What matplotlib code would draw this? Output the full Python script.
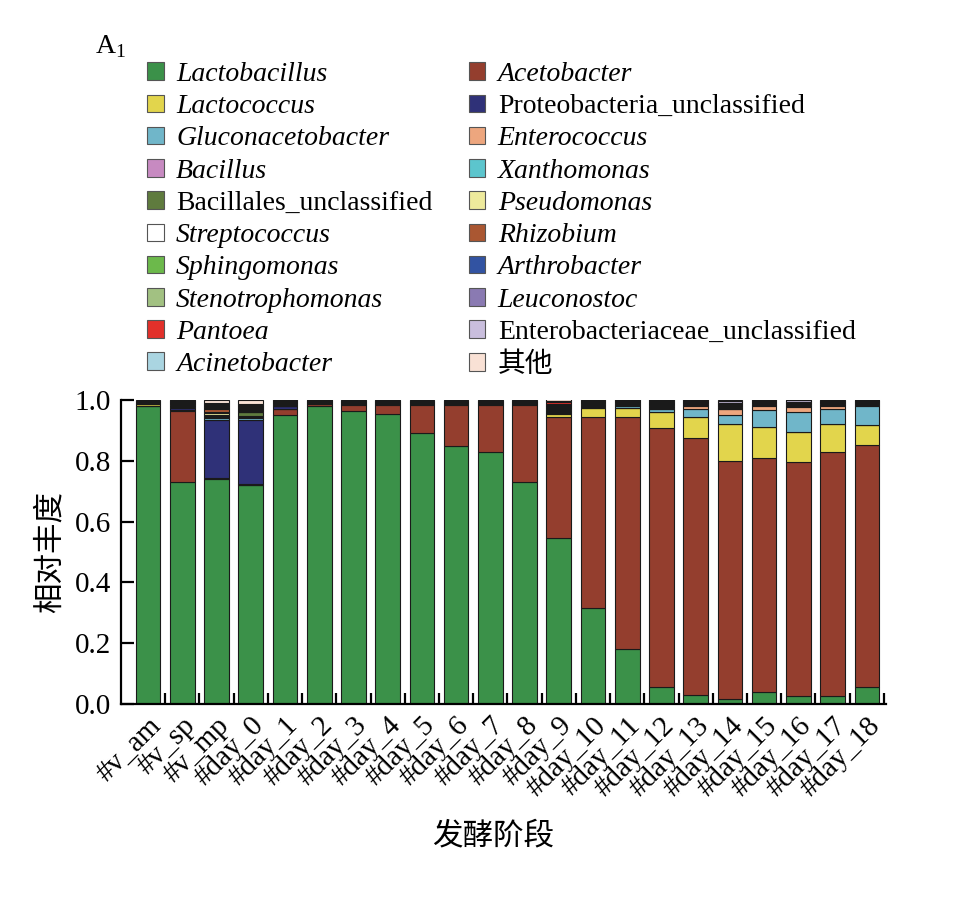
import matplotlib

matplotlib.use("Agg")
import matplotlib.pyplot as plt
import numpy as np
from matplotlib.patches import Patch

plt.rcParams["font.family"] = ["Liberation Serif", "Noto Sans CJK SC"]
plt.rcParams["mathtext.fontset"] = "custom"
plt.rcParams["mathtext.rm"] = "Liberation Serif"

samples = [
    "#v_am", "#v_sp", "#v_mp", "#day_0", "#day_1", "#day_2", "#day_3",
    "#day_4", "#day_5", "#day_6", "#day_7", "#day_8", "#day_9", "#day_10",
    "#day_11", "#day_12", "#day_13", "#day_14", "#day_15", "#day_16",
    "#day_17", "#day_18",
]

# relative abundance per genus, stacked bottom -> top in this order
lactobacillus = [0.980, 0.730, 0.740, 0.720, 0.950, 0.980, 0.965, 0.955, 0.890, 0.850, 0.830,
                 0.730, 0.545, 0.315, 0.180, 0.055, 0.030, 0.015, 0.040, 0.025, 0.025, 0.055]
acetobacter = [0.000, 0.235, 0.002, 0.002, 0.020, 0.008, 0.020, 0.030, 0.095, 0.135, 0.155,
               0.255, 0.400, 0.630, 0.765, 0.853, 0.844, 0.785, 0.770, 0.770, 0.804, 0.797]
lactococcus = [0.008, 0.002, 0.001, 0.001, 0.001, 0.001, 0.001, 0.001, 0.001, 0.001, 0.001,
               0.001, 0.010, 0.030, 0.030, 0.052, 0.069, 0.122, 0.100, 0.100, 0.093, 0.065]
proteobacteria_unc = [0.000, 0.008, 0.190, 0.210, 0.008, 0.000, 0.000, 0.000, 0.000, 0.000, 0.000,
                      0.000, 0.002, 0.000, 0.000, 0.000, 0.000, 0.000, 0.000, 0.000, 0.000, 0.000]
gluconacetobacter = [0.000, 0.000, 0.008, 0.008, 0.000, 0.000, 0.000, 0.000, 0.000, 0.000, 0.000,
                     0.000, 0.002, 0.002, 0.005, 0.010, 0.027, 0.028, 0.057, 0.066, 0.048, 0.062]
enterococcus = [0.000, 0.000, 0.003, 0.002, 0.000, 0.000, 0.000, 0.000, 0.000, 0.000, 0.000,
                0.000, 0.000, 0.000, 0.000, 0.002, 0.010, 0.020, 0.013, 0.016, 0.010, 0.006]
bacillus = [0.001, 0.002, 0.003, 0.003, 0.002, 0.001, 0.001, 0.001, 0.001, 0.001, 0.001,
            0.001, 0.003, 0.002, 0.002, 0.002, 0.002, 0.002, 0.002, 0.002, 0.002, 0.002]
xanthomonas = [0.001, 0.002, 0.002, 0.002, 0.002, 0.001, 0.001, 0.001, 0.001, 0.001, 0.001,
               0.001, 0.003, 0.003, 0.004, 0.003, 0.002, 0.002, 0.002, 0.002, 0.002, 0.002]
bacillales_unc = [0.001, 0.004, 0.003, 0.011, 0.002, 0.001, 0.001, 0.001, 0.001, 0.001, 0.001,
                  0.001, 0.003, 0.003, 0.002, 0.002, 0.002, 0.002, 0.002, 0.002, 0.002, 0.002]
pseudomonas = [0.001, 0.002, 0.004, 0.002, 0.002, 0.001, 0.001, 0.001, 0.001, 0.001, 0.001,
               0.001, 0.003, 0.003, 0.002, 0.002, 0.002, 0.002, 0.002, 0.002, 0.002, 0.002]
streptococcus = [0.001, 0.002, 0.003, 0.003, 0.002, 0.001, 0.001, 0.001, 0.001, 0.001, 0.001,
                 0.001, 0.003, 0.002, 0.002, 0.002, 0.002, 0.002, 0.002, 0.002, 0.002, 0.002]
rhizobium = [0.001, 0.002, 0.012, 0.004, 0.002, 0.001, 0.001, 0.001, 0.001, 0.001, 0.001,
             0.001, 0.003, 0.002, 0.002, 0.002, 0.002, 0.002, 0.002, 0.002, 0.002, 0.001]
sphingomonas = [0.001, 0.002, 0.003, 0.003, 0.002, 0.001, 0.001, 0.001, 0.001, 0.001, 0.001,
                0.001, 0.003, 0.002, 0.001, 0.002, 0.002, 0.002, 0.002, 0.002, 0.001, 0.001]
arthrobacter = [0.001, 0.002, 0.003, 0.003, 0.002, 0.001, 0.001, 0.001, 0.001, 0.001, 0.001,
                0.001, 0.003, 0.002, 0.001, 0.002, 0.001, 0.002, 0.001, 0.001, 0.001, 0.001]
stenotrophomonas = [0.001, 0.002, 0.003, 0.003, 0.002, 0.001, 0.001, 0.001, 0.001, 0.001, 0.001,
                    0.001, 0.002, 0.001, 0.001, 0.002, 0.001, 0.002, 0.001, 0.001, 0.001, 0.001]
leuconostoc = [0.001, 0.002, 0.003, 0.003, 0.001, 0.001, 0.001, 0.001, 0.001, 0.001, 0.001,
               0.001, 0.002, 0.001, 0.001, 0.002, 0.001, 0.002, 0.001, 0.001, 0.001, 0.001]
pantoea = [0.000, 0.001, 0.002, 0.002, 0.001, 0.000, 0.001, 0.001, 0.001, 0.001, 0.001,
           0.001, 0.006, 0.001, 0.001, 0.001, 0.001, 0.001, 0.001, 0.001, 0.001, 0.000]
enterobacteriaceae_unc = [0.000, 0.001, 0.002, 0.002, 0.001, 0.001, 0.001, 0.001, 0.001, 0.001, 0.001,
                          0.001, 0.003, 0.001, 0.001, 0.002, 0.002, 0.006, 0.002, 0.004, 0.001, 0.000]
acinetobacter = [0.000, 0.001, 0.002, 0.002, 0.001, 0.000, 0.001, 0.001, 0.001, 0.001, 0.001,
                 0.001, 0.002, 0.001, 0.001, 0.004, 0.001, 0.001, 0.001, 0.001, 0.001, 0.000]
others = [0.001, 0.001, 0.011, 0.014, 0.001, 0.001, 0.001, 0.001, 0.001, 0.001, 0.001,
          0.001, 0.004, 0.001, 0.001, 0.002, 0.001, 0.002, 0.001, 0.001, 0.001, 0.001]

taxa = [
    ("Lactobacillus", lactobacillus, "#3b9149"),
    ("Acetobacter", acetobacter, "#943e2e"),
    ("Lactococcus", lactococcus, "#e2d54c"),
    ("Proteobacteria_unclassified", proteobacteria_unc, "#2f3178"),
    ("Gluconacetobacter", gluconacetobacter, "#70b6c9"),
    ("Enterococcus", enterococcus, "#eda67e"),
    ("Bacillus", bacillus, "#c78ac1"),
    ("Xanthomonas", xanthomonas, "#5cc5cd"),
    ("Bacillales_unclassified", bacillales_unc, "#5f7b3e"),
    ("Pseudomonas", pseudomonas, "#eeea9c"),
    ("Streptococcus", streptococcus, "#ffffff"),
    ("Rhizobium", rhizobium, "#aa5732"),
    ("Sphingomonas", sphingomonas, "#6cb94b"),
    ("Arthrobacter", arthrobacter, "#3253a2"),
    ("Stenotrophomonas", stenotrophomonas, "#a2c182"),
    ("Leuconostoc", leuconostoc, "#8a7ab2"),
    ("Pantoea", pantoea, "#e2302a"),
    ("Enterobacteriaceae_unclassified", enterobacteriaceae_unc, "#c9bedd"),
    ("Acinetobacter", acinetobacter, "#aad5e1"),
    ("其他", others, "#f9e1d5"),
]

fig = plt.figure(figsize=(9.65, 9.0), dpi=100)
ax = fig.add_axes([121 / 965, 1 - 704 / 900, 765 / 965, 304 / 900])

x = np.arange(len(samples))
bottom = np.zeros(len(samples))
handles = {}
for name, values, color in taxa:
    values = np.array(values)
    ax.bar(x, values, width=0.72, bottom=bottom, color=color,
           edgecolor="#1a1a1a", linewidth=0.8)
    bottom += values
    handles[name] = Patch(facecolor=color, edgecolor="#555555", linewidth=0.8)

ax.set_xlim(-0.79, 21.56)
ax.set_ylim(0, 1.0)

for side in ("top", "right"):
    ax.spines[side].set_visible(False)
for side in ("left", "bottom"):
    ax.spines[side].set_linewidth(1.6)

ax.set_yticks([0.0, 0.2, 0.4, 0.6, 0.8, 1.0])
ax.set_yticklabels(["0.0", "0.2", "0.4", "0.6", "0.8", "1.0"])
ax.tick_params(axis="y", direction="in", length=9, width=1.6, labelsize=21, pad=7)

ax.set_xticks(x)
ax.set_xticklabels(samples, rotation=45, ha="right", va="top",
                   rotation_mode="anchor", fontsize=21)
ax.tick_params(axis="x", which="major", length=0, pad=6)
ax.set_xticks(x + 0.5, minor=True)
ax.tick_params(axis="x", which="minor", direction="in", length=8, width=1.6)

ax.set_ylabel("相对丰度", fontsize=22, family=["Noto Sans CJK SC"])
ax.yaxis.set_label_coords(-0.093, 0.5)
ax.yaxis.label.set_va("center")
ax.set_xlabel("发酵阶段", fontsize=22, family=["Noto Sans CJK SC"])
ax.xaxis.set_label_coords(0.486, -0.435)
ax.xaxis.label.set_va("center")

# legend: two columns, filled column by column
left_col = ["Lactobacillus", "Lactococcus", "Gluconacetobacter", "Bacillus",
            "Bacillales_unclassified", "Streptococcus", "Sphingomonas",
            "Stenotrophomonas", "Pantoea", "Acinetobacter"]
right_col = ["Acetobacter", "Proteobacteria_unclassified", "Enterococcus",
             "Xanthomonas", "Pseudomonas", "Rhizobium", "Arthrobacter",
             "Leuconostoc", "Enterobacteriaceae_unclassified", "其他"]
order = left_col + right_col
leg = fig.legend([handles[n] for n in order], order, ncol=2,
                 loc="upper left", bbox_to_anchor=(147 / 965, 1 - 62 / 900),
                 frameon=False, fontsize=20, borderpad=0, borderaxespad=0,
                 handlelength=0.6, handleheight=0.6, handletextpad=0.45,
                 labelspacing=0.26, columnspacing=1.3)
for t in leg.get_texts():
    label = t.get_text()
    if "unclassified" not in label and label != "其他":
        t.set_fontstyle("italic")

fig.text(95 / 965, 1 - 47 / 900, r"A$_{\mathregular{1}}$", fontsize=20, va="center")

plt.savefig("out.png", dpi=100)
plt.close()
